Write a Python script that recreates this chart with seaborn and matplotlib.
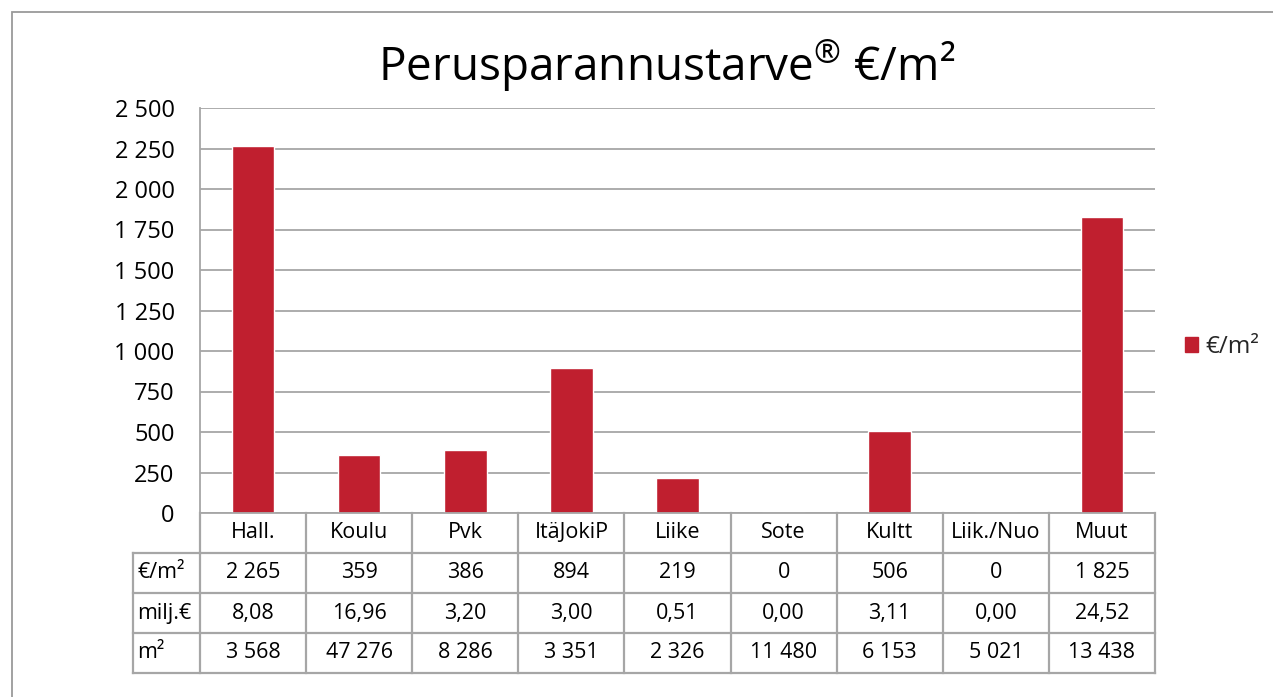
import matplotlib
matplotlib.use("Agg")
import matplotlib.pyplot as plt
import seaborn as sns
import pandas as pd
from matplotlib.transforms import blended_transform_factory
from matplotlib.patches import Patch, Rectangle
from matplotlib.ticker import FuncFormatter

# ---- data ----
categories = ["Hall.", "Koulu", "Pvk", "ItäJokiP", "Liike", "Sote", "Kultt", "Liik./Nuo", "Muut"]
eur_per_m2 = [2265, 359, 386, 894, 219, 0, 506, 0, 1825]
milj_eur = [8.08, 16.96, 3.20, 3.00, 0.51, 0.00, 3.11, 0.00, 24.52]
area_m2 = [3568, 47276, 8286, 3351, 2326, 11480, 6153, 5021, 13438]
row_labels = ["€/m²", "milj.€", "m²"]
series_name = "€/m²"
title_main = "Perusparannustarve"
title_mark = "®"
title_unit = " €/m²"
yticks = [0, 250, 500, 750, 1000, 1250, 1500, 1750, 2000, 2250, 2500]

BAR = "#C01F2F"
GRID = "#A6A6A6"
W, H = 1273, 697

sns.set_style("white")
plt.rcParams["font.family"] = ["Open Sans", "DejaVu Sans"]
plt.rcParams["mathtext.fontset"] = "custom"
plt.rcParams["mathtext.rm"] = "Open Sans"
plt.rcParams["mathtext.default"] = "regular"

def fmt_int(v):
    return f"{int(round(v)):,}".replace(",", " ")

def fmt_dec(v):
    return f"{v:.2f}".replace(".", ",")

df = pd.DataFrame({"cat": categories, "val": eur_per_m2})

fig = plt.figure(figsize=(W / 100, H / 100), dpi=100)
# outer chart border
fig.patches.append(Rectangle((12 / W, -0.1), 1.2, 1 - 12 / H + 0.1, transform=fig.transFigure,
                             fill=False, edgecolor="#9A9A9A", lw=1.3))

ax = fig.add_axes([200 / W, 1 - 513 / H, 955 / W, 405 / H])
sns.barplot(data=df, x="cat", y="val", color=BAR, width=0.4, saturation=1, ax=ax)
ax.set_xlim(-0.5, len(categories) - 0.5)
ax.set_ylim(0, 2500)
ax.set_yticks(yticks)
ax.yaxis.set_major_formatter(FuncFormatter(lambda v, p: fmt_int(v)))
ax.set_xticks([])
ax.set_xlabel("")
ax.set_ylabel("")
ax.yaxis.grid(True, color=GRID, lw=1.3)
ax.set_axisbelow(True)
for s in ["top", "right"]:
    ax.spines[s].set_visible(False)
for s in ["left", "bottom"]:
    ax.spines[s].set_color(GRID)
    ax.spines[s].set_linewidth(1.3)
ax.tick_params(axis="y", length=7.2, width=1.3, color=GRID, labelsize=17, pad=11, labelcolor="#000000")

# title
fig.text(667 / W, 1 - 66 / H, rf"{title_main}$^{{{title_mark}}}${title_unit}", ha="center", va="center",
         fontsize=33, color="#000000")

# legend
ax.legend(handles=[Patch(facecolor=BAR, edgecolor=BAR, label=series_name)],
          loc="center left", bbox_to_anchor=(1185 / W, 1 - 347 / H),
          bbox_transform=fig.transFigure, frameon=False, fontsize=17.5, borderpad=0,
          borderaxespad=0, handlelength=0.55, handleheight=0.55, handletextpad=0.3)

# data table
tr = blended_transform_factory(ax.transData, ax.transAxes)
h = 40 / 405
n = len(categories)
x0, x1 = -0.5, n - 0.5
xl = -0.5 - 67 / (955 / n)
lk = dict(color=GRID, lw=1.6, transform=tr, clip_on=False, solid_capstyle="projecting")
for k in range(1, 5):
    ax.plot([xl if k > 1 else x0, x1], [-k * h, -k * h], **lk)
ax.plot([xl, x0], [-h, -h], **lk)
for i in range(n + 1):
    ax.plot([x0 + i, x0 + i], [0, -4 * h], **lk)
ax.plot([xl, xl], [-h, -4 * h], **lk)

rows = [[fmt_int(v) for v in eur_per_m2], [fmt_dec(v) for v in milj_eur], [fmt_int(v) for v in area_m2]]
FS = 15.5
tk = dict(transform=tr, ha="center", va="center", fontsize=FS, color="#000000", clip_on=False)
for i, c in enumerate(categories):
    ax.text(i, -0.5 * h, c, **tk)
for r, vals in enumerate(rows):
    yc = -(r + 1.5) * h
    ax.text(xl + 0.04, yc, row_labels[r], transform=tr, ha="left", va="center",
            fontsize=FS, color="#000000", clip_on=False)
    for i, v in enumerate(vals):
        ax.text(i, yc, v, **tk)

fig.savefig("out.png", dpi=100)
